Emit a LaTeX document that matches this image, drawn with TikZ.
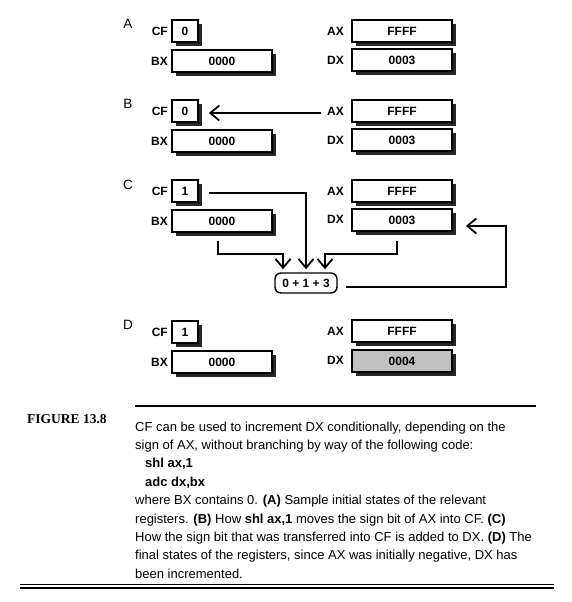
\documentclass[tikz,border=0pt]{standalone}
\usepackage{fontspec}
\setmainfont{Liberation Sans}
\newfontfamily\serifbf{Liberation Serif}
\usetikzlibrary{shadows,arrows.meta}
\definecolor{dxgray}{HTML}{C0C0C0}
\begin{document}
\begin{tikzpicture}[x=1pt,y=-1pt,
  reg/.style={draw,line width=1.8pt,fill=white,minimum height=22pt,inner sep=0pt,
    font=\fontsize{12}{14}\selectfont\bfseries,
    drop shadow={shadow xshift=4pt,shadow yshift=-4pt,fill=black!85,opacity=1}},
  wide/.style={reg,minimum width=100pt},
  narrow/.style={reg,minimum width=26pt},
  lab/.style={font=\fontsize{12}{14}\selectfont\bfseries,anchor=east,inner sep=0pt},
  plet/.style={font=\fontsize{13.5}{15}\selectfont,inner sep=0pt},
  conn/.style={line width=1.8pt},
  arr/.style={conn,-{Straight Barb[length=9pt,width=15pt,line width=1.8pt]}},
  captext/.style={anchor=base west,inner sep=0pt,font=\fontsize{13}{15}\selectfont}
]
\useasboundingbox (0,0) rectangle (571,602);

% Panel A
\node[plet] (pA) at (128,24) {A};
\node[narrow] (cfA) at (185,31) {0};
\node[lab] (lcfA) at (168,31) {CF};
\node[wide] (bxA) at (222,61) {0000};
\node[lab] (lbxA) at (168,61) {BX};
\node[wide] (axA) at (402,31) {FFFF};
\node[lab] (laxA) at (344,31) {AX};
\node[wide] (dxA) at (402,60) {0003};
\node[lab] (ldxA) at (344,60) {DX};

% Panel B
\node[plet] (pB) at (128,104) {B};
\node[narrow] (cfB) at (185,111) {0};
\node[lab] (lcfB) at (168,111) {CF};
\node[wide] (bxB) at (222,141) {0000};
\node[lab] (lbxB) at (168,141) {BX};
\node[wide] (axB) at (402,111) {FFFF};
\node[lab] (laxB) at (344,111) {AX};
\node[wide] (dxB) at (402,140) {0003};
\node[lab] (ldxB) at (344,140) {DX};
\draw[arr] ([xshift=-6pt,yshift=-2pt]laxB.west) -- ([xshift=10pt,yshift=-2pt]cfB.east);

% Panel C
\node[plet] (pC) at (128,185) {C};
\node[narrow] (cfC) at (185,191) {1};
\node[lab] (lcfC) at (168,191) {CF};
\node[wide] (bxC) at (222,221) {0000};
\node[lab] (lbxC) at (168,221) {BX};
\node[wide] (axC) at (402,191) {FFFF};
\node[lab] (laxC) at (344,191) {AX};
\node[wide] (dxC) at (402,220) {0003};
\node[lab] (ldxC) at (344,219) {DX};
\node[draw,line width=1.4pt,rounded corners=6pt,minimum width=62pt,minimum height=20pt,
      inner sep=0pt,font=\fontsize{12}{14}\selectfont\bfseries] (res) at (306,283) {0 + 1 + 3};
\draw[arr] ([xshift=10pt,yshift=-2pt]cfC.east) -| ([yshift=3pt]res.north);
\draw[arr] ([xshift=-4pt,yshift=-8pt]bxC.south) -- ++(0,13) -| ([xshift=-23pt,yshift=3pt]res.north);
\draw[arr] ([xshift=-5pt,yshift=-9pt]dxC.south) -- ++(0,13) -| ([xshift=19pt,yshift=3pt]res.north);
\draw[arr] ([xshift=8pt,yshift=-4pt]res.east) -- ++(160,0) |- ([xshift=13pt,yshift=-6pt]dxC.east);

% Panel D
\node[plet] (pD) at (128,325) {D};
\node[narrow] (cfD) at (185,332) {1};
\node[lab] (lcfD) at (168,332) {CF};
\node[wide] (bxD) at (222,362) {0000};
\node[lab] (lbxD) at (168,362) {BX};
\node[wide] (axD) at (402,331) {FFFF};
\node[lab] (laxD) at (344,331) {AX};
\node[wide,fill=dxgray] (dxD) at (402,361) {0004};
\node[lab] (ldxD) at (344,360) {DX};

% Caption
\coordinate (r1) at (135,406);
\coordinate (r2) at (536,406);
\draw[line width=1.1pt] (r1) -- (r2);
\node[anchor=west,inner sep=0pt,font=\serifbf\bfseries\fontsize{13.5}{15}\selectfont] (fig) at (27,419) {FIGURE 13.8};
\node[captext] (c1) at (135,431) {CF can be used to increment DX conditionally, depending on the};
\node[captext] (c2) at (135,449.4) {sign of AX, without branching by way of the following code:};
\node[captext,font=\fontsize{13}{15}\selectfont\bfseries] (c3) at (145,467.8) {shl ax,1};
\node[captext,font=\fontsize{13}{15}\selectfont\bfseries] (c4) at (145,486.2) {adc dx,bx};
\node[captext] (c5) at (135,504.6) {where BX contains 0. \textbf{(A)} Sample initial states of the relevant};
\node[captext] (c6) at (135,523) {registers. \textbf{(B)} How \textbf{shl ax,1} moves the sign bit of AX into CF. \textbf{(C)}};
\node[captext] (c7) at (135,541.4) {How the sign bit that was transferred into CF is added to DX. \textbf{(D)} The};
\node[captext] (c8) at (135,559.8) {final states of the registers, since AX was initially negative, DX has};
\node[captext] (c9) at (135,578.2) {been incremented.};
\coordinate (d1) at (20,584.5);
\coordinate (d2) at (554,584.5);
\coordinate (e1) at (20,588);
\coordinate (e2) at (554,588);
\draw[line width=1.3pt] (d1) -- (d2);
\draw[line width=1.3pt] (e1) -- (e2);
\end{tikzpicture}
\end{document}
